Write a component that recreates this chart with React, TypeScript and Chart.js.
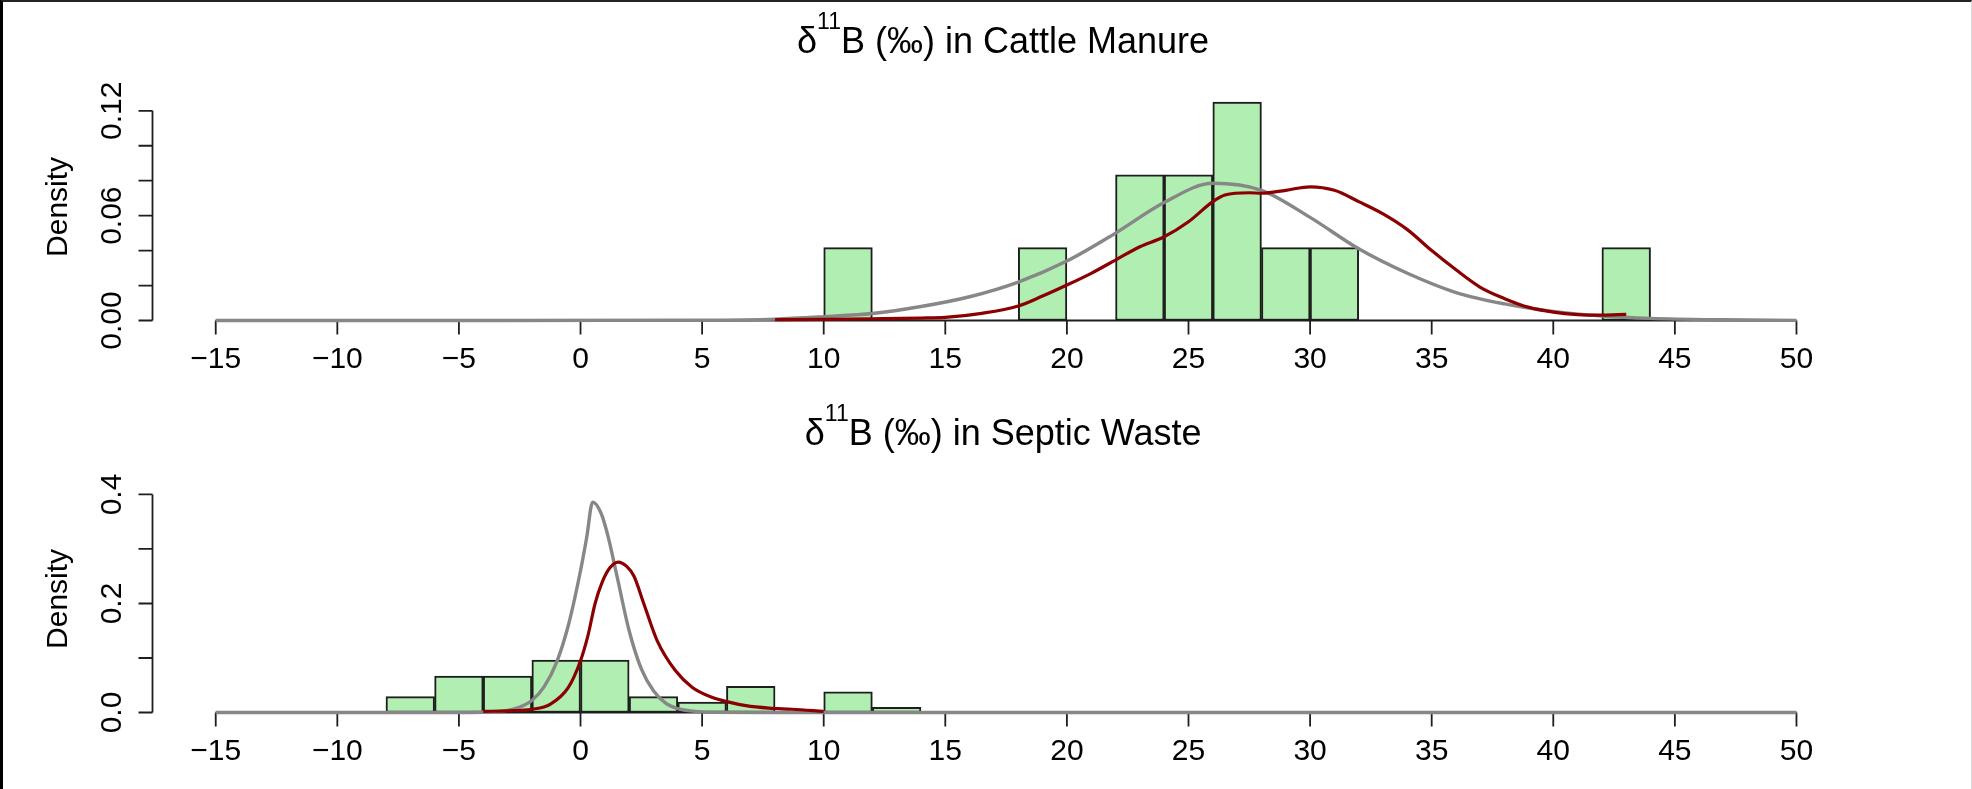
import React, { useEffect, useRef } from "react";
import { Chart, registerables } from "chart.js";

Chart.register(...registerables);

// ---------- data ----------
const xTicks = [-15, -10, -5, 0, 5, 10, 15, 20, 25, 30, 35, 40, 45, 50];

// Cattle manure histogram (bin width 2)
const cattleBinCenters = [11, 13, 15, 17, 19, 21, 23, 25, 27, 29, 31, 33, 35, 37, 39, 41, 43];
const cattleDensity = [0.0417, 0, 0, 0, 0.0417, 0, 0.0833, 0.0833, 0.125, 0.0417, 0.0417, 0, 0, 0, 0, 0, 0.0417];

// Cattle grey curve
const cattleGreyX = [-15, -5, 5, 8, 10, 12, 14, 16, 18, 20, 22, 24, 26, 28, 30, 32, 34, 36, 38, 40, 42, 44, 47, 50];
const cattleGreyY = [0, 0, 0.0002, 0.0008, 0.0022, 0.004, 0.008, 0.0136, 0.022, 0.034, 0.05, 0.0675, 0.0785, 0.0745, 0.059, 0.041, 0.027, 0.016, 0.0095, 0.0052, 0.0026, 0.0012, 0.0004, 0.0001];

// Cattle red curve
const cattleRedX = [8, 10, 12, 14, 15, 16.5, 18, 19, 20, 21, 22, 23, 24, 25, 26, 26.5, 27.5, 28, 29, 30, 31, 32, 33, 34, 35, 36, 37, 38, 39, 40, 41, 42, 43];
const cattleRedY = [0.0005, 0.0007, 0.001, 0.0014, 0.0018, 0.0041, 0.0083, 0.014, 0.0203, 0.027, 0.0346, 0.0422, 0.0479, 0.0565, 0.068, 0.0718, 0.0731, 0.0728, 0.0745, 0.0765, 0.0745, 0.068, 0.061, 0.052, 0.04, 0.029, 0.019, 0.0125, 0.0075, 0.0048, 0.0034, 0.0031, 0.0035];

const cattleYTicks = [0, 0.02, 0.04, 0.06, 0.08, 0.1, 0.12];
const cattleYLabels = ["0.00", "", "", "0.06", "", "", "0.12"];

// Septic waste histogram (bin width 2)
const septicBinCenters = [-7, -5, -3, -1, 1, 3, 5, 7, 9, 11, 13];
const septicDensity = [0.029, 0.067, 0.067, 0.096, 0.096, 0.029, 0.019, 0.048, 0, 0.038, 0.0096];

// Septic grey curve
const septicGreyX = [-15, -6, -4, -3, -2.5, -2, -1.5, -1, -0.5, 0, 0.25, 0.5, 0.85, 1.15, 1.5, 2, 2.5, 3, 3.5, 4, 4.5, 5.5, 8, 50];
const septicGreyY = [0, 0, 0.0005, 0.004, 0.01, 0.022, 0.047, 0.09, 0.16, 0.26, 0.32, 0.386, 0.365, 0.32, 0.25, 0.15, 0.08, 0.04, 0.017, 0.007, 0.003, 0.0005, 0, 0];

// Septic red curve
const septicRedX = [-4, -3, -2, -1.25, -0.5, 0, 0.3, 0.6, 0.9, 1.2, 1.55, 1.9, 2.2, 2.6, 3.15, 3.9, 4.6, 5.4, 6.1, 6.8, 7.75, 8.7, 10];
const septicRedY = [0.002, 0.003, 0.006, 0.015, 0.046, 0.095, 0.14, 0.2, 0.24, 0.265, 0.276, 0.268, 0.25, 0.2, 0.132, 0.077, 0.046, 0.028, 0.019, 0.0125, 0.008, 0.006, 0.002];

const septicYTicks = [0, 0.1, 0.2, 0.3, 0.4];
const septicYLabels = ["0.0", "", "0.2", "", "0.4"];

// ---------- styling ----------
const FONT = '"Liberation Sans", Arial, Helvetica, sans-serif';
const BAR_FILL = "#b1eeb1";
const BAR_EDGE = "#1e1e1e";
const GREY = "#878787";
const RED = "#8b0000";
const W = 1972;

type PanelCfg = {
  titleRest: string;
  binCenters: number[];
  density: number[];
  greyX: number[];
  greyY: number[];
  redX: number[];
  redY: number[];
  yTicks: number[];
  yLabels: string[];
  yMax: number;
  height: number;
  top: number;
};

const panels: PanelCfg[] = [
  {
    titleRest: "B (\u2030) in Cattle Manure",
    binCenters: cattleBinCenters,
    density: cattleDensity,
    greyX: cattleGreyX,
    greyY: cattleGreyY,
    redX: cattleRedX,
    redY: cattleRedY,
    yTicks: cattleYTicks,
    yLabels: cattleYLabels,
    yMax: 0.13,
    height: 392,
    top: 0,
  },
  {
    titleRest: "B (\u2030) in Septic Waste",
    binCenters: septicBinCenters,
    density: septicDensity,
    greyX: septicGreyX,
    greyY: septicGreyY,
    redX: septicRedX,
    redY: septicRedY,
    yTicks: septicYTicks,
    yLabels: septicYLabels,
    yMax: 0.4168,
    height: 397,
    top: 392,
  },
];

function makeRPlot(cfg: PanelCfg) {
  return {
    id: "rPlot",
    beforeDatasetsDraw(chart: any) {
      const { ctx, chartArea } = chart;
      const xs = chart.scales.x;
      const ys = chart.scales.y;
      ctx.save();
      ctx.strokeStyle = "#1e1e1e";
      ctx.fillStyle = "#000";
      ctx.lineWidth = 1.8;

      // x axis
      const yb = ys.getPixelForValue(0);
      const xa = xs.getPixelForValue(xTicks[0]);
      const xb = xs.getPixelForValue(xTicks[xTicks.length - 1]);
      ctx.beginPath();
      ctx.moveTo(xa, yb);
      ctx.lineTo(xb, yb);
      xTicks.forEach((v) => {
        const px = xs.getPixelForValue(v);
        ctx.moveTo(px, yb);
        ctx.lineTo(px, yb + 14);
      });
      ctx.stroke();
      ctx.font = `30px ${FONT}`;
      ctx.textAlign = "center";
      ctx.textBaseline = "alphabetic";
      xTicks.forEach((v) => {
        const px = xs.getPixelForValue(v);
        ctx.fillText(String(v).replace("-", "\u2212"), px, yb + 47.5);
      });

      // y axis
      const xl = chartArea.left;
      const y0 = ys.getPixelForValue(cfg.yTicks[0]);
      const y1 = ys.getPixelForValue(cfg.yTicks[cfg.yTicks.length - 1]);
      ctx.beginPath();
      ctx.moveTo(xl, y0);
      ctx.lineTo(xl, y1);
      cfg.yTicks.forEach((v) => {
        const py = ys.getPixelForValue(v);
        ctx.moveTo(xl, py);
        ctx.lineTo(xl - 14, py);
      });
      ctx.stroke();
      cfg.yTicks.forEach((v, i) => {
        const lab = cfg.yLabels[i];
        if (!lab) return;
        const py = ys.getPixelForValue(v);
        ctx.save();
        ctx.translate(xl - 31.5, py);
        ctx.rotate(-Math.PI / 2);
        ctx.fillText(lab, 0, 0);
        ctx.restore();
      });

      // y title
      ctx.save();
      ctx.translate(67, (chartArea.top + chartArea.bottom) / 2);
      ctx.rotate(-Math.PI / 2);
      ctx.fillText("Density", 0, 0);
      ctx.restore();

      // main title with superscript
      const cx = (chartArea.left + chartArea.right) / 2 - 3;
      const base = 53;
      ctx.font = `36px ${FONT}`;
      const wd = ctx.measureText("\u03b4").width;
      const wr = ctx.measureText(cfg.titleRest).width;
      ctx.font = `23px ${FONT}`;
      const ws = ctx.measureText("11").width;
      const total = wd + ws + wr;
      let sx = cx - total / 2;
      ctx.textAlign = "left";
      ctx.font = `36px ${FONT}`;
      ctx.fillText("\u03b4", sx, base);
      sx += wd;
      ctx.font = `23px ${FONT}`;
      ctx.fillText("11", sx, base - 24);
      sx += ws;
      ctx.font = `36px ${FONT}`;
      ctx.fillText(cfg.titleRest, sx, base);

      ctx.restore();
    },
  };
}

function Panel({ cfg }: { cfg: PanelCfg }) {
  const ref = useRef<HTMLCanvasElement>(null);
  useEffect(() => {
    const canvas = ref.current!;
    const chart = new Chart(canvas, {
      type: "bar",
      data: {
        datasets: [
          {
            type: "line",
            label: "red",
            data: cfg.redX.map((x, i) => ({ x, y: cfg.redY[i] })),
            borderColor: RED,
            borderWidth: 3.2,
            pointRadius: 0,
            fill: false,
            cubicInterpolationMode: "monotone",
            order: 1,
            clip: false,
          } as any,
          {
            type: "line",
            label: "grey",
            data: cfg.greyX.map((x, i) => ({ x, y: cfg.greyY[i] })),
            borderColor: GREY,
            borderWidth: 3.4,
            pointRadius: 0,
            fill: false,
            cubicInterpolationMode: "monotone",
            order: 2,
            clip: false,
          } as any,
          {
            type: "bar",
            label: "hist",
            data: cfg.binCenters.map((x, i) => ({ x, y: cfg.density[i] })),
            backgroundColor: BAR_FILL,
            borderColor: BAR_EDGE,
            borderWidth: 2,
            borderSkipped: false,
            barPercentage: 1,
            categoryPercentage: 1,
            order: 3,
          } as any,
        ],
      },
      options: {
        animation: false,
        responsive: false,
        devicePixelRatio: 1,
        events: [],
        layout: {
          padding: { left: 152.5, right: W - 1859.7, top: 93.3, bottom: cfg.height - 320.5 },
        },
        plugins: {
          legend: { display: false },
          tooltip: { enabled: false },
          title: { display: false },
        },
        scales: {
          x: {
            type: "linear",
            min: -17.6,
            max: 52.6,
            offset: false,
            display: false,
            afterBuildTicks: (scale: any) => {
              scale.ticks = xTicks.map((v) => ({ value: v }));
            },
          },
          y: {
            type: "linear",
            min: 0,
            max: cfg.yMax,
            display: false,
          },
        },
      } as any,
      plugins: [makeRPlot(cfg)],
    });
    return () => chart.destroy();
  }, [cfg]);
  return (
    <canvas
      ref={ref}
      width={W}
      height={cfg.height}
      style={{ position: "absolute", left: 0, top: cfg.top, width: W, height: cfg.height }}
    />
  );
}

export default function App() {
  return (
    <div
      style={{
        position: "fixed",
        left: 0,
        top: 0,
        width: 1972,
        height: 789,
        background: "#fff",
        overflow: "hidden",
      }}
    >
      {panels.map((p, i) => (
        <Panel key={i} cfg={p} />
      ))}
      <div
        style={{
          position: "absolute",
          left: 0,
          top: 0,
          width: 1972,
          height: 789,
          boxSizing: "border-box",
          borderTop: "2px solid #222",
          borderLeft: "3px solid #000",
          borderRight: "1px solid #ddd",
          pointerEvents: "none",
        }}
      />
    </div>
  );
}
